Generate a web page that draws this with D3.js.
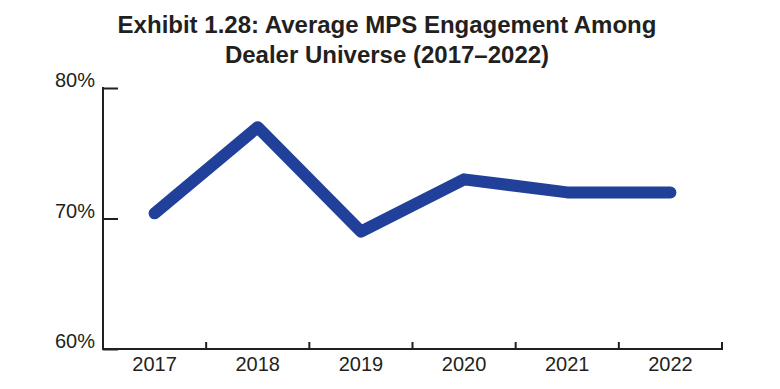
<!DOCTYPE html>
<html>
<head>
<meta charset="utf-8">
<script src="https://cdn.jsdelivr.net/npm/d3@7"></script>
<style>
  body { margin: 0; background: #fff; }
  svg { display: block; font-family: "Liberation Sans", Arial, sans-serif; }
</style>
</head>
<body>
<div id="chart"></div>
<script>
const years = ["2017", "2018", "2019", "2020", "2021", "2022"];
const engagement = [70.4, 77, 69, 73, 72, 72];
const yTicks = [60, 70, 80];
const titleLines = [
  "Exhibit 1.28: Average MPS Engagement Among",
  "Dealer Universe (2017\u20132022)"
];

const width = 780, height = 389;
const margin = { top: 88, right: 58, bottom: 40, left: 103 };

const svg = d3.select("#chart").append("svg")
  .attr("width", width)
  .attr("height", height);

const ink = "#231f20";

// title
svg.selectAll(".title")
  .data(titleLines)
  .enter()
  .append("text")
  .attr("class", "title")
  .attr("x", 387)
  .attr("y", (d, i) => 33 + i * 30)
  .attr("text-anchor", "middle")
  .attr("font-size", 24)
  .attr("font-weight", "bold")
  .attr("fill", ink)
  .text((d) => d);

const x = d3.scaleBand()
  .domain(years)
  .range([margin.left, width - margin.right]);

const y = d3.scaleLinear()
  .domain([60, 80])
  .range([height - margin.bottom, margin.top]);

// y axis
const yAxis = svg.append("g")
  .attr("transform", `translate(${margin.left},0)`)
  .call(d3.axisRight(y).tickValues(yTicks).tickSize(15).tickFormat(""));
yAxis.select(".domain").remove();
yAxis.selectAll("line").attr("stroke", ink).attr("stroke-width", 2);
yAxis.append("line")
  .attr("x1", 0).attr("x2", 0)
  .attr("y1", y(80) - 1).attr("y2", y(60) + 1)
  .attr("stroke", ink).attr("stroke-width", 2);

svg.selectAll(".ylab")
  .data(yTicks)
  .enter()
  .append("text")
  .attr("class", "ylab")
  .attr("x", 95)
  .attr("y", (d) => y(d) - 1)
  .attr("text-anchor", "end")
  .attr("font-size", 20)
  .attr("fill", ink)
  .text((d) => d + "%");

// x axis
const xAxis = svg.append("g")
  .attr("transform", `translate(0,${y(60)})`);
xAxis.append("line")
  .attr("x1", margin.left - 1).attr("x2", width - margin.right + 1)
  .attr("stroke", ink).attr("stroke-width", 2);
xAxis.selectAll(".xtick")
  .data(years)
  .enter()
  .append("line")
  .attr("class", "xtick")
  .attr("x1", (d) => x(d) + x.bandwidth())
  .attr("x2", (d) => x(d) + x.bandwidth())
  .attr("y1", 0).attr("y2", -7)
  .attr("stroke", ink).attr("stroke-width", 2);
xAxis.selectAll(".xlab")
  .data(years)
  .enter()
  .append("text")
  .attr("class", "xlab")
  .attr("x", (d) => x(d) + x.bandwidth() / 2)
  .attr("y", 22)
  .attr("text-anchor", "middle")
  .attr("font-size", 20)
  .attr("fill", ink)
  .text((d) => d);

// line
const line = d3.line()
  .x((d, i) => x(years[i]) + x.bandwidth() / 2)
  .y((d) => y(d));

svg.append("path")
  .datum(engagement)
  .attr("d", line)
  .attr("fill", "none")
  .attr("stroke", "#21409a")
  .attr("stroke-width", 12)
  .attr("stroke-linecap", "round")
  .attr("stroke-linejoin", "round");
</script>
</body>
</html>
